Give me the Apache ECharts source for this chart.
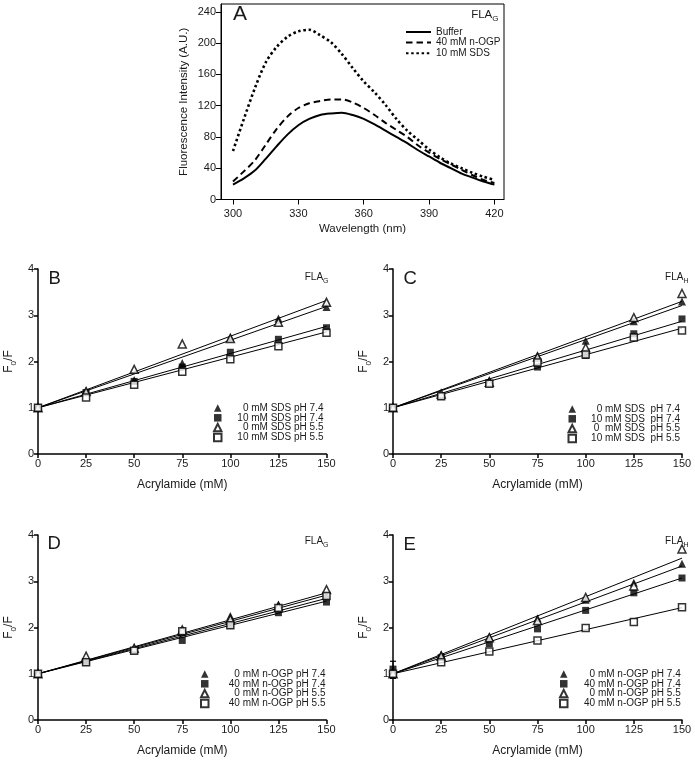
<!DOCTYPE html>
<html>
<head>
<meta charset="utf-8">
<script src="https://cdn.jsdelivr.net/npm/echarts@6/dist/echarts.min.js"></script>
<style>
  html, body { margin: 0; padding: 0; background: #fff; }
  #chart { width: 695px; height: 763px; }
</style>
</head>
<body>
<div id="chart"></div>
<script>
// Panel A: emission spectra of FLA_G
const wavelength = [300, 305, 310, 315, 320, 325, 330, 335, 340, 345, 350, 355, 360,
  365, 370, 375, 380, 385, 390, 395, 400, 405, 410, 415, 420];
const bufferCurve = [19, 27, 37, 52, 68, 83, 95, 103, 108, 110, 111, 108, 103,
  96, 88, 80, 72, 63, 55, 47, 40, 33, 28, 23, 19];
const nogpCurve = [23, 36, 50, 70, 90, 106, 117, 123, 126, 128, 128, 124, 117,
  108, 98, 89, 80, 69, 60, 52, 45, 38, 31, 25, 21];
const sdsCurve = [62, 103, 142, 175, 195, 208, 215, 217, 210, 201, 186, 168, 151,
  137, 121, 103, 88, 76, 64, 54, 46, 40, 34, 29, 25];
const spectraNames = ['Buffer', '40 mM n-OGP', '10 mM SDS'];
const wlTicks = [300, 330, 360, 390, 420];
const intensityTicks = [0, 40, 80, 120, 160, 200, 240];

// Panels B-E: Stern-Volmer plots
const acrylamide = [0, 25, 50, 75, 100, 125, 150];

const namesB = ['0 mM SDS pH 7.4', '10 mM SDS pH 7.4', '0 mM SDS pH 5.5', '10 mM SDS pH 5.5'];
const b_t74 = [1, 1.37, 1.6, 1.97, 2.52, 2.93, 3.18];
const b_s74 = [1, 1.33, 1.57, 1.88, 2.2, 2.48, 2.73];
const b_t55 = [1, 1.35, 1.83, 2.38, 2.5, 2.85, 3.28];
const b_s55 = [1, 1.22, 1.5, 1.78, 2.05, 2.33, 2.62];
const b_fitEnds = [3.19, 2.76, 3.32, 2.64];

const namesC = ['0 mM SDS  pH 7.4', '10 mM SDS  pH 7.4', '0  mM SDS  pH 5.5', '10 mM SDS  pH 5.5'];
const c_t74 = [1, 1.3, 1.6, 2.13, 2.45, 2.87, 3.3];
const c_s74 = [1, 1.25, 1.53, 1.88, 2.13, 2.6, 2.92];
const c_t55 = [1, 1.3, 1.55, 2.1, 2.3, 2.95, 3.47];
const c_s55 = [1, 1.25, 1.52, 1.98, 2.15, 2.52, 2.67];
const c_fitEnds = [3.21, 2.87, 3.3, 2.72];

const namesD = ['0 mM n-OGP pH 7.4', '40 mM n-OGP pH 7.4', '0 mM n-OGP pH 5.5', '40 mM n-OGP pH 5.5'];
const d_t74 = [1, 1.3, 1.57, 1.9, 2.25, 2.5, 2.7];
const d_s74 = [1, 1.25, 1.5, 1.72, 2.05, 2.32, 2.55];
const d_t55 = [1, 1.38, 1.55, 1.95, 2.18, 2.45, 2.82];
const d_s55 = [1, 1.25, 1.5, 1.92, 2.05, 2.42, 2.68];
const d_fitEnds = [2.7, 2.57, 2.75, 2.63];

const namesE = ['0 mM n-OGP pH 7.4 ', '40 mM n-OGP pH 7.4 ', '0 mM n-OGP pH 5.5 ', '40 mM n-OGP pH 5.5 '];
const e_t74 = [1.05, 1.42, 1.8, 2.2, 2.6, 2.97, 3.38];
const e_s74 = [1.1, 1.35, 1.65, 1.97, 2.37, 2.75, 3.07];
const e_t55 = [1, 1.38, 1.78, 2.15, 2.65, 2.9, 3.7];
const e_s55 = [1, 1.25, 1.48, 1.72, 1.99, 2.12, 2.44];
const e_fitEnds = [3.33, 3.07, 3.5, 2.43];
const e_errX = [0, 0];
const e_errY = [0.9, 1.27];

const FONT = 'Liberation Sans, Arial, sans-serif';
const TXT = '#1a1a1a';

const pairs = (xs, ys) => xs.map((x, i) => [x, ys[i]]);

// marker look for the four data sets, in legend order
const markerStyles = [
  { symbol: 'triangle', symbolSize: 8, itemStyle: { color: '#000' } },
  { symbol: 'rect', symbolSize: 7, itemStyle: { color: '#000' } },
  { symbol: 'triangle', symbolSize: 8, itemStyle: { color: '#fff', borderColor: '#000', borderWidth: 1.5 } },
  { symbol: 'rect', symbolSize: 7, itemStyle: { color: '#fff', borderColor: '#000', borderWidth: 1.5 } }
];

const panels = [
  { grid: { left: 38, top: 269, width: 288.5, height: 185 }, names: namesB, sets: [b_t74, b_s74, b_t55, b_s55], fits: b_fitEnds,
    legend: { left: 208, top: 398, w: 97 } },
  { grid: { left: 393, top: 269, width: 289, height: 185 }, names: namesC, sets: [c_t74, c_s74, c_t55, c_s55], fits: c_fitEnds,
    legend: { left: 562.5, top: 399, w: 99 } },
  { grid: { left: 38, top: 535, width: 288.5, height: 185 }, names: namesD, sets: [d_t74, d_s74, d_t55, d_s55], fits: d_fitEnds,
    legend: { left: 195, top: 664, w: 112 } },
  { grid: { left: 393, top: 535, width: 289, height: 185 }, names: namesE, sets: [e_t74, e_s74, e_t55, e_s55], fits: e_fitEnds,
    legend: { left: 554, top: 664, w: 111 } }
];

const grids = [{ left: 221, top: 4, width: 283, height: 195.5, show: true, borderColor: '#000', borderWidth: 1 }];
const xAxes = [{
  gridIndex: 0, type: 'value', min: 294.5, max: 424.4,
  axisLine: { onZero: false, lineStyle: { color: '#000', width: 1 } },
  axisTick: { customValues: wlTicks, length: 5, lineStyle: { color: '#000' } },
  axisLabel: { customValues: wlTicks, fontSize: 11, color: TXT, fontFamily: FONT, margin: 9 },
  splitLine: { show: false },
  name: 'Wavelength (nm)', nameLocation: 'middle', nameGap: 23,
  nameTextStyle: { fontSize: 11.5, color: TXT, fontFamily: FONT }
}];
const yAxes = [{
  gridIndex: 0, type: 'value', min: 0, max: 250,
  axisLine: { onZero: false, lineStyle: { color: '#000', width: 1 } },
  axisTick: { customValues: intensityTicks, length: 5, lineStyle: { color: '#000' } },
  axisLabel: { customValues: intensityTicks, fontSize: 11, color: TXT, fontFamily: FONT, margin: 5 },
  splitLine: { show: false },
  name: 'Fluorescence Intensity (A.U.)', nameLocation: 'middle', nameGap: 31, nameRotate: 90,
  nameTextStyle: { fontSize: 11.5, color: TXT, fontFamily: FONT }
}];

const lineStyles = [
  { type: 'solid', width: 2 },
  { type: [6.5, 4], width: 2 },
  { type: [2.5, 2.7], width: 2.6 }
];
const series = [bufferCurve, nogpCurve, sdsCurve].map((ys, i) => ({
  name: spectraNames[i], type: 'line', xAxisIndex: 0, yAxisIndex: 0,
  data: pairs(wavelength, ys), smooth: 0.3, symbol: 'none', showSymbol: false,
  lineStyle: Object.assign({ color: '#000' }, lineStyles[i]),
  itemStyle: { color: '#000' }
}));

const legends = [{
  left: 400, top: 22, orient: 'vertical', itemWidth: 25, itemHeight: 8, itemGap: 0.6,
  data: spectraNames,
  itemStyle: { opacity: 0 },
  textStyle: { fontSize: 10, color: TXT, fontFamily: FONT, lineHeight: 8 }
}];

const axisBase = {
  axisLine: { onZero: false, lineStyle: { color: '#000', width: 1.5 } },
  axisTick: { length: 4, lineStyle: { color: '#000', width: 1.5 } },
  splitLine: { show: false }
};

panels.forEach((p, k) => {
  const gi = k + 1;
  grids.push(p.grid);
  xAxes.push(Object.assign({}, axisBase, {
    gridIndex: gi, type: 'value', min: 0, max: 150, interval: 25,
    axisLabel: { fontSize: 11, color: TXT, fontFamily: FONT, margin: 4 },
    name: 'Acrylamide (mM)', nameLocation: 'middle', nameGap: 25,
    nameTextStyle: { fontSize: 12, color: TXT, fontFamily: FONT }
  }));
  yAxes.push(Object.assign({}, axisBase, {
    gridIndex: gi, type: 'value', min: 0, max: 4, interval: 1,
    axisLabel: { fontSize: 11, color: TXT, fontFamily: FONT, margin: 4 },
    name: '{n|F}{s|0}{n|/F}', nameLocation: 'middle', nameGap: 20, nameRotate: 90,
    nameTextStyle: {
      color: TXT, fontFamily: FONT,
      rich: {
        n: { fontSize: 12, lineHeight: 18, color: TXT, fontFamily: FONT },
        s: { fontSize: 8, lineHeight: 18, verticalAlign: 'bottom', color: TXT, fontFamily: FONT }
      }
    }
  }));
  // fitted lines
  p.fits.forEach((end) => {
    series.push({
      type: 'line', xAxisIndex: gi, yAxisIndex: gi, silent: true, symbol: 'none', z: 1,
      data: pairs([0, 150], [1, end]),
      lineStyle: { color: '#000', width: 1 }
    });
  });
  // data points
  p.sets.forEach((ys, j) => {
    series.push(Object.assign({
      name: p.names[j], type: 'scatter', xAxisIndex: gi, yAxisIndex: gi, z: 3,
      data: pairs(acrylamide, ys), clip: false
    }, markerStyles[j]));
  });
  legends.push({
    left: p.legend.left, top: p.legend.top, orient: 'vertical', itemWidth: 7.5, itemHeight: 7.5, itemGap: -0.2,
    data: p.names,
    formatter: '{r|{name}}',
    textStyle: {
      color: TXT, fontFamily: FONT, fontSize: 10, lineHeight: 8,
      rich: { r: { width: p.legend.w, align: 'right', fontSize: 10, lineHeight: 8, color: TXT, fontFamily: FONT } }
    }
  });
});

// error bar on the first point of panel E
series.push({
  type: 'line', xAxisIndex: 4, yAxisIndex: 4, silent: true, z: 2,
  data: pairs(e_errX, e_errY),
  symbol: 'rect', symbolSize: [6, 1.2], itemStyle: { color: '#000' },
  lineStyle: { color: '#000', width: 1 }
});

// panel letters and FLA labels
const letter = (txt, x, y, size) => ({
  type: 'text', x: x, y: y,
  style: { text: txt, font: size + 'px ' + FONT, fill: TXT, textAlign: 'left', textVerticalAlign: 'middle' }
});
const fla = (sub, xRight, y, size) => ({
  type: 'text', x: xRight, y: y,
  style: {
    text: '{n|FLA}{s|' + sub + '}', fill: TXT, textAlign: 'right', textVerticalAlign: 'middle',
    rich: {
      n: { fontSize: size, lineHeight: size * 1.5, fontFamily: FONT, fill: TXT, color: TXT },
      s: { fontSize: size * 0.7, lineHeight: size * 1.5, verticalAlign: 'bottom', fontFamily: FONT, fill: TXT, color: TXT }
    }
  }
});

const graphics = [
  letter('A', 233, 14, 21),
  letter('B', 48.5, 279, 18.5),
  letter('C', 403.5, 279, 18.5),
  letter('D', 47.5, 544, 18.5),
  letter('E', 403.5, 544.5, 18.5),
  fla('G', 498.5, 14.5, 11.5),
  fla('G', 328.5, 277, 10),
  fla('H', 688.5, 277, 10),
  fla('G', 328.5, 541, 10),
  fla('H', 688.5, 541, 10)
];

const chart = echarts.init(document.getElementById('chart'), null, { renderer: 'canvas' });
chart.setOption({
  animation: false,
  backgroundColor: '#fff',
  grid: grids,
  xAxis: xAxes,
  yAxis: yAxes,
  legend: legends,
  series: series,
  graphic: graphics
});
</script>
</body>
</html>
